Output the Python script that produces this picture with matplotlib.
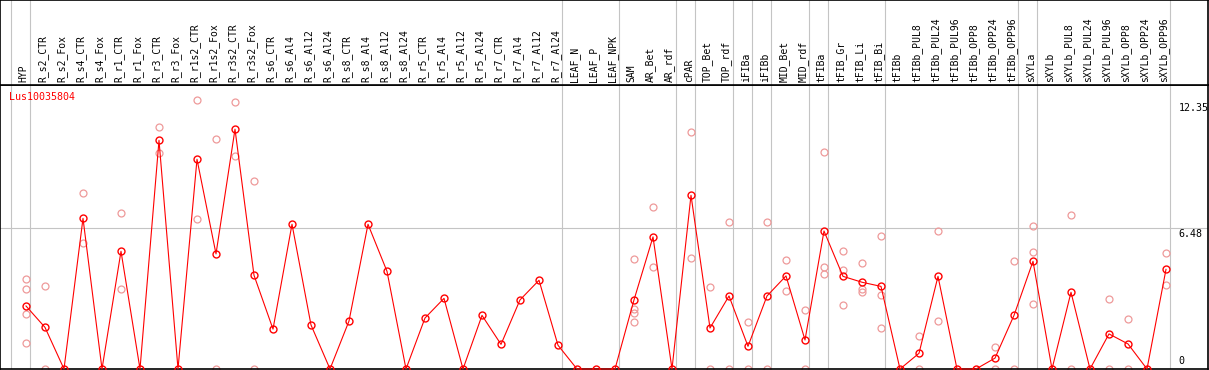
import numpy as np
import matplotlib
matplotlib.use("Agg")
import matplotlib.pyplot as plt

gene = "Lus10035804"

labels = ["HYP", "R_s2_CTR", "R_s2_Fox", "R_s4_CTR", "R_s4_Fox", "R_r1_CTR", "R_r1_Fox",
          "R_r3_CTR", "R_r3_Fox", "R_r1s2_CTR", "R_r1s2_Fox", "R_r3s2_CTR", "R_r3s2_Fox",
          "R_s6_CTR", "R_s6_Al4", "R_s6_Al12", "R_s6_Al24", "R_s8_CTR", "R_s8_Al4",
          "R_s8_Al12", "R_s8_Al24", "R_r5_CTR", "R_r5_Al4", "R_r5_Al12", "R_r5_Al24",
          "R_r7_CTR", "R_r7_Al4", "R_r7_Al12", "R_r7_Al24", "LEAF_N", "LEAF_P", "LEAF_NPK",
          "SAM", "AR_Bet", "AR_rdf", "cPAR", "TOP_Bet", "TOP_rdf", "iFIBa", "iFIBb",
          "MID_Bet", "MID_rdf", "tFIBa", "tFIB_Gr", "tFIB_Li", "tFIB_Bi", "tFIBb",
          "tFIBb_PUL8", "tFIBb_PUL24", "tFIBb_PUL96", "tFIBb_OPP8", "tFIBb_OPP24",
          "tFIBb_OPP96", "sXYLa", "sXYLb", "sXYLb_PUL8", "sXYLb_PUL24", "sXYLb_PUL96",
          "sXYLb_OPP8", "sXYLb_OPP24", "sXYLb_OPP96"]

means = [2.89, 1.91, 0, 6.91, 0, 5.40, 0, 10.49, 0, 9.62, 5.28, 11.00, 4.30,
         1.83, 6.64, 2.02, 0, 2.20, 6.64, 4.48, 0, 2.34, 3.24, 0, 2.46,
         1.13, 3.17, 4.07, 1.09, 0, 0, 0,
         3.17, 6.06, 0, 7.97, 1.88, 3.35, 1.04, 3.35, 4.27, 1.33,
         6.33, 4.25, 3.98, 3.79, 0, 0.72, 4.25, 0, 0, 0.50, 2.46,
         4.94, 0, 3.52, 0, 1.61, 1.15, 0, 4.57]

replicates = [[4.11, 3.66, 2.52, 1.18], [3.82, 0], [], [8.06, 5.79], [], [7.14, 3.66], [],
              [11.09, 9.89], [], [12.35, 6.89], [10.53, 0], [12.23, 9.79], [8.61, 0],
              [], [], [], [], [], [], [], [], [], [], [], [],
              [], [], [], [], [], [], [],
              [5.05, 2.75, 2.55, 2.14], [7.43, 4.68], [], [10.87, 5.08], [3.75, 0],
              [6.73, 0], [2.14, 0], [6.73, 0], [4.99, 3.58], [2.71, 0],
              [9.94, 4.68, 4.36], [5.40, 4.54, 2.92], [4.85, 3.66, 3.53], [6.09, 3.38, 1.88],
              [], [1.50, 0], [6.32, 2.19], [], [], [1.0, 0], [4.94, 0],
              [6.55, 5.35, 2.97], [], [7.05, 0], [], [3.20, 0], [2.28, 0], [], [5.31, 3.87]]

# group separators come after these columns
separators = [-1, 0, 28, 31, 34, 35, 37, 38, 39, 41, 42, 45, 52, 53, 60]
ymax, ymid = 12.35, 6.48

W, H = 1209, 370
fig = plt.figure(figsize=(W / 100, H / 100), dpi=100)

# pixel layout
x0, x_step, right = 26, 19, 1208
head_bot, plot_bot = 85, 369
px_per_unit = 21.8

xlim = (-x0 / x_step, (right - x0) / x_step)
ax = fig.add_axes([0, (H - plot_bot) / H, right / W, (plot_bot - head_bot) / H])
hd = fig.add_axes([0, (H - head_bot) / H, right / W, head_bot / H])

ax.set_xlim(*xlim)
ax.set_ylim(0, (plot_bot - head_bot) / px_per_unit)
hd.set_xlim(*xlim)
hd.set_ylim(0, 1)

for a in (ax, hd):
    a.set_xticks([])
    a.set_yticks([])
    for s in a.spines.values():
        s.set_linewidth(1.2)
        s.set_color("black")
    for s in a.spines.values():
        s.set_clip_on(False)

grey = "#c4c4c4"
for s in separators:
    ax.axvline(s + 0.22, color=grey, lw=0.8, zorder=1)
    hd.axvline(s + 0.22, color=grey, lw=0.8, zorder=1)
ax.axhline(ymid, color=grey, lw=0.8, zorder=1)

xs = np.arange(len(labels))
rx = [i for i, r in enumerate(replicates) for _ in r]
ry = [v for r in replicates for v in r]
ax.plot(rx, ry, ls="none", marker="o", ms=5, mfc="none", mec="#ee9a9a", mew=0.9,
        zorder=2, clip_on=False)
ax.plot(xs, means, color="red", lw=0.8, marker="o", ms=5, mfc="none", mec="red",
        mew=1.0, zorder=3, clip_on=False)

mono = "DejaVu Sans Mono"
for i, lab in enumerate(labels):
    hd.text(i - 0.12, 0.03, lab, rotation=90, ha="center", va="bottom",
            fontsize=7, family=mono)

ax.text(9 / right, 0.958, gene, transform=ax.transAxes, color="red",
        fontsize=7.2, family=mono, ha="left", va="center")

tx = (1178.7 - x0) / x_step
ax.annotate("12.35", (tx, ymax), xytext=(0, -2), textcoords="offset points",
            ha="left", va="top", fontsize=7.2, family=mono)
ax.annotate("6.48", (tx, ymid), xytext=(0, -1.2), textcoords="offset points",
            ha="left", va="top", fontsize=7.2, family=mono)
ax.annotate("0", (tx, 0), xytext=(0, 2), textcoords="offset points",
            ha="left", va="bottom", fontsize=7.2, family=mono)

fig.savefig("out.png", dpi=100)
